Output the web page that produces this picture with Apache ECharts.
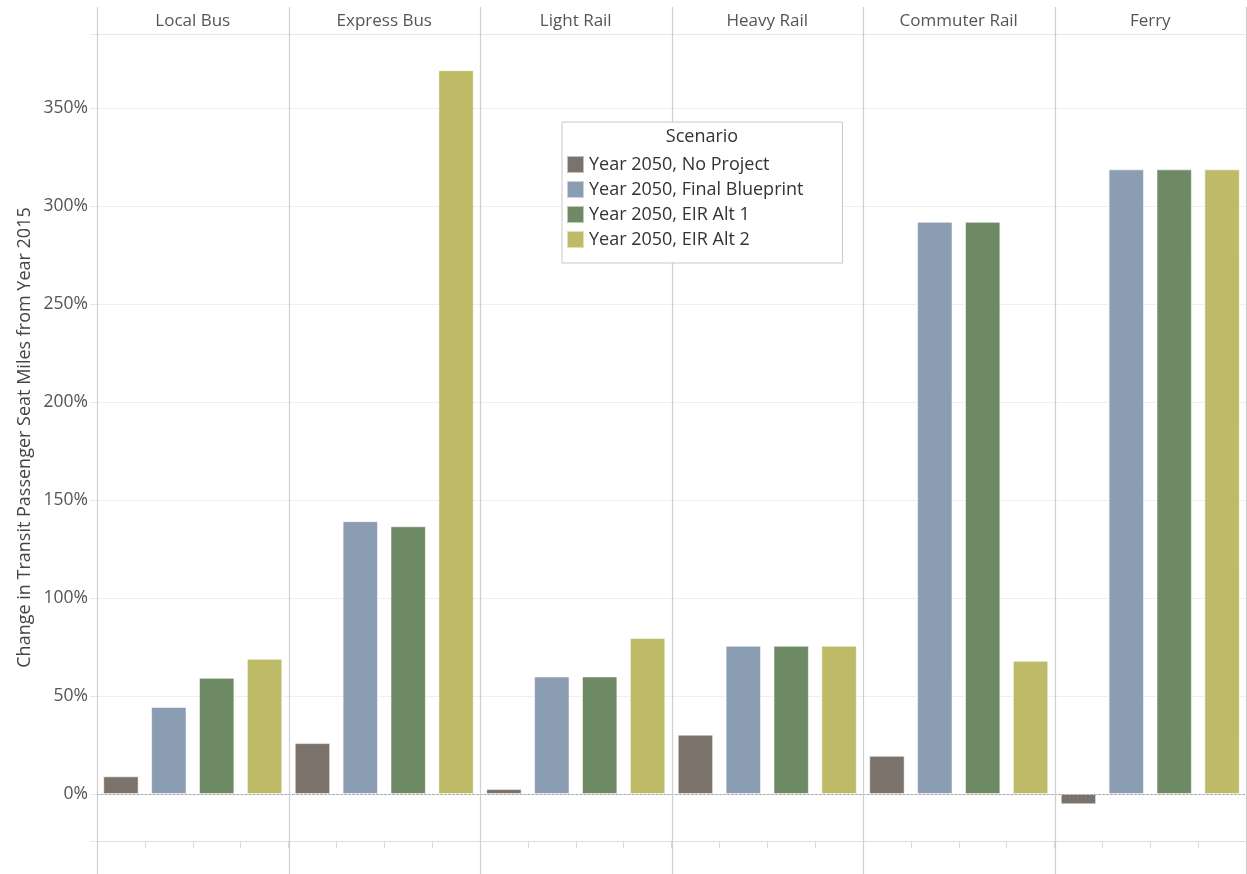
<!DOCTYPE html>
<html>
<head>
<meta charset="utf-8">
<script src="https://cdn.jsdelivr.net/npm/echarts@6/dist/echarts.min.js"></script>
<style>
html,body{margin:0;padding:0;background:#fff;}
#c{width:1247px;height:874px;}
</style>
</head>
<body>
<div id="c"></div>
<script>
// ---- data ----
const modes = ['Local Bus', 'Express Bus', 'Light Rail', 'Heavy Rail', 'Commuter Rail', 'Ferry'];
const scenarios = ['Year 2050, No Project', 'Year 2050, Final Blueprint', 'Year 2050, EIR Alt 1', 'Year 2050, EIR Alt 2'];
const noProject      = [9.0, 26.0, 2.6, 30.3, 19.5, -5.3];
const finalBlueprint = [44.4, 139.3, 60.0, 75.7, 292.1, 318.9];
const eirAlt1        = [59.3, 136.7, 60.0, 75.7, 292.1, 318.9];
const eirAlt2        = [69.0, 369.5, 79.6, 75.7, 68.0, 318.9];
const yMin = -24, yMax = 388;
const yTickStep = 50;
const yAxisTitle = 'Change in Transit Passenger Seat Miles from Year 2015';
const legendTitle = 'Scenario';

// ---- style / layout ----
const colors = ['#7b736b', '#8a9db2', '#6e8a65', '#bdbb67'];
const FONT = "'Open Sans', 'Noto Sans', sans-serif";
const L = 97, R = 1246, TOP = 34, BOTTOM_Y = 841;
const W = (R - L) / modes.length;
const seriesVals = [noProject, finalBlueprint, eirAlt1, eirAlt2];

const grids = [], xAxes = [], yAxes = [], series = [], graphics = [];
modes.forEach((m, i) => {
  grids.push({ left: L + i * W, width: W, top: TOP, height: BOTTOM_Y - TOP, containLabel: false });
  xAxes.push({
    type: 'category', gridIndex: i, data: scenarios, position: 'bottom',
    axisLine: { show: true, onZero: true, lineStyle: { color: '#aaaaaa', type: [2, 2], width: 1 } },
    axisTick: { show: false }, axisLabel: { show: false }, z: 5
  });
  xAxes.push({
    type: 'category', gridIndex: i, data: scenarios, position: 'bottom',
    axisLine: { show: true, onZero: false, lineStyle: { color: '#dedede', width: 1 } },
    axisTick: { show: true, interval: 0, length: 7, lineStyle: { color: '#dadada' } },
    axisLabel: { show: false }
  });
  xAxes.push({
    type: 'category', gridIndex: i, data: [m], position: 'top',
    axisLine: { show: true, onZero: false, lineStyle: { color: '#e6e6e6', width: 1 } },
    axisTick: { show: false },
    axisLabel: { show: true, fontFamily: FONT, fontSize: 17, color: '#555', margin: 4 }
  });
  yAxes.push({
    type: 'value', gridIndex: i, min: yMin, max: yMax, splitNumber: 8,
    axisLine: { show: false },
    axisTick: { show: i === 0, length: 7, lineStyle: { color: '#e6e6e6' } },
    axisLabel: {
      show: i === 0, fontFamily: FONT, fontSize: 17.5, color: '#555', margin: 9,
      formatter: v => (Math.abs(v % yTickStep) < 1e-6 ? v + '%' : '')
    },
    splitLine: { show: true, lineStyle: { color: '#efefef', width: 1 } },
    name: i === 0 ? yAxisTitle : '', nameLocation: 'middle', nameGap: 63, nameRotate: 90,
    nameTextStyle: { fontFamily: FONT, fontSize: 18, color: '#444' }
  });
  scenarios.forEach((s, j) => {
    series.push({
      type: 'bar', name: s, xAxisIndex: i * 3, yAxisIndex: i, stack: 'm' + i,
      barWidth: '74%',
      itemStyle: { color: colors[j], borderColor: 'rgba(255,255,255,0.55)', borderWidth: 1 },
      data: scenarios.map((_, k) => (k === j ? seriesVals[j][i] : '-'))
    });
  });
});

for (let k = 0; k <= modes.length; k++) {
  const x = Math.round(L + k * W) + 0.5;
  graphics.push({
    type: 'line', z: 10, silent: true,
    shape: { x1: x, y1: 7, x2: x, y2: 874 },
    style: { stroke: '#cfcfcf', lineWidth: 1.2 }
  });
}
graphics.push({
  type: 'text', z: 200, x: 702, y: 137,
  style: { text: legendTitle, textAlign: 'center', textVerticalAlign: 'middle', font: "18px 'Open Sans', sans-serif", fill: '#333' }
});

const chart = echarts.init(document.getElementById('c'), null, { renderer: 'canvas' });
chart.setOption({
  animation: false,
  color: colors,
  grid: grids,
  xAxis: xAxes,
  yAxis: yAxes,
  series: series,
  legend: {
    data: scenarios, orient: 'vertical', left: 562, top: 122,
    padding: [33, 39, 14, 4], itemGap: 6, itemWidth: 17, itemHeight: 17,
    icon: 'rect', backgroundColor: '#fff', borderColor: '#c8c8c8', borderWidth: 1,
    textStyle: { fontFamily: FONT, fontSize: 18, color: '#333' }, z: 100
  },
  graphic: graphics
});
</script>
</body>
</html>
